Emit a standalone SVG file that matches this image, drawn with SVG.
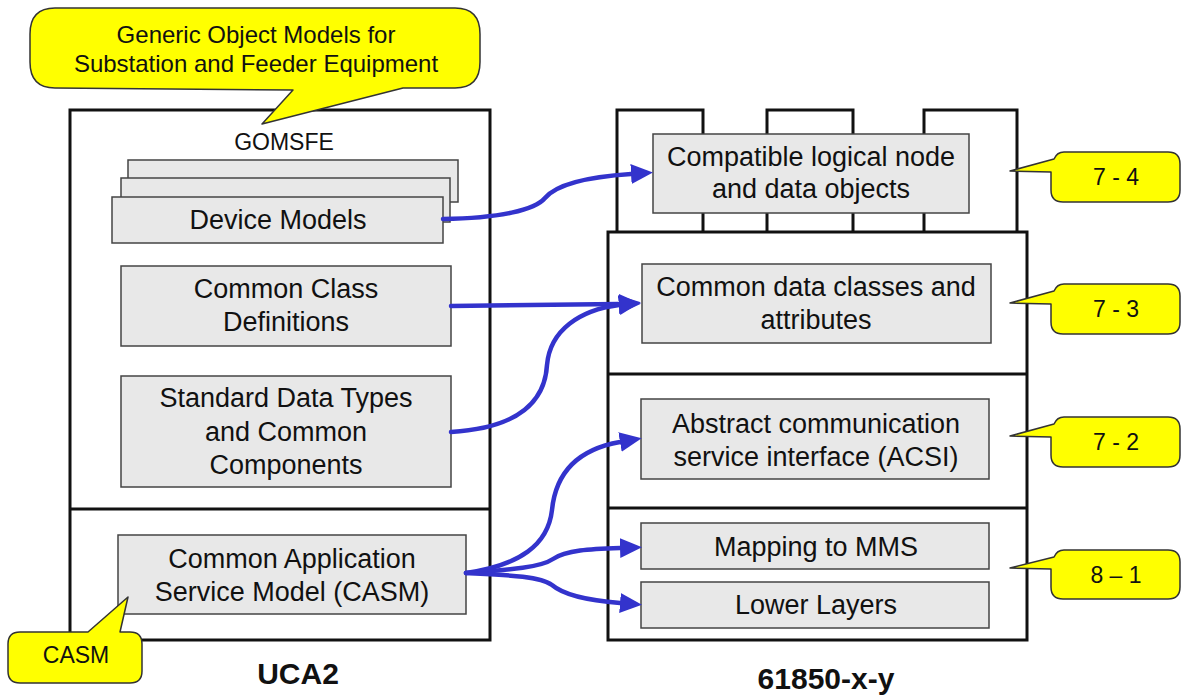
<svg xmlns="http://www.w3.org/2000/svg" width="1182" height="696" viewBox="0 0 1182 696">
<style>
text{font-family:"Liberation Sans",Arial,sans-serif;fill:#111;text-anchor:middle}
.t{font-size:27px}
.c{font-size:23px}
.g{font-size:24px}
.b{font-size:30px;font-weight:bold}
.frame{fill:none;stroke:#111;stroke-width:3}
.box{fill:#e8e8e8;stroke:#444;stroke-width:1.5}
.call{fill:#ffff00;stroke:#333;stroke-width:1.5;stroke-linejoin:round}
.conn{fill:none;stroke:#3333cc;stroke-width:4.5;stroke-linecap:round}
</style>
<defs>
<marker id="ah" markerUnits="userSpaceOnUse" markerWidth="24" markerHeight="22" refX="0" refY="10" orient="auto" viewBox="0 0 24 22">
<path d="M0,0 L22,10 L0,20 z" fill="#3333cc"/>
</marker>
</defs>
<rect width="1182" height="696" fill="#fff"/>

<g id="uca2-frame">
<rect class="frame" x="70" y="110" width="420" height="530"/>
<line class="frame" x1="70" y1="509" x2="490" y2="509"/>
<text class="c" x="284" y="150">GOMSFE</text>
<text class="b" x="298" y="684">UCA2</text>
</g>

<g id="iec-frame">
<path class="frame" d="M617,232 V110 H703 V232 M767,232 V110 H853 V232 M924,232 V110 H1017 V232"/>
<rect class="frame" x="608" y="232" width="419" height="408"/>
<line class="frame" x1="608" y1="374" x2="1027" y2="374"/>
<line class="frame" x1="608" y1="508" x2="1027" y2="508"/>
<text class="b" x="826" y="689">61850-x-y</text>
</g>

<g id="device-models">
<rect class="box" x="128" y="160" width="330" height="42"/>
<rect class="box" x="121" y="178" width="329" height="44"/>
<rect class="box" x="112" y="197" width="331" height="46"/>
<text class="t" x="278" y="229">Device Models</text>
</g>

<g id="common-class">
<rect class="box" x="121" y="266" width="330" height="80"/>
<text class="t" x="286" y="298">Common Class</text>
<text class="t" x="286" y="331">Definitions</text>
</g>

<g id="standard-data">
<rect class="box" x="121" y="376" width="330" height="111"/>
<text class="t" x="286" y="407">Standard Data Types</text>
<text class="t" x="286" y="441">and Common</text>
<text class="t" x="286" y="474">Components</text>
</g>

<g id="casm">
<rect class="box" x="118" y="535" width="348" height="79"/>
<text class="t" x="292" y="568">Common Application</text>
<text class="t" x="292" y="601">Service Model (CASM)</text>
</g>

<g id="compatible-ln">
<rect class="box" x="653" y="134" width="316" height="79"/>
<text class="t" x="811" y="166">Compatible logical node</text>
<text class="t" x="811" y="198">and data objects</text>
</g>

<g id="common-data-classes">
<rect class="box" x="642" y="264" width="349" height="79"/>
<text class="t" x="816" y="296">Common data classes and</text>
<text class="t" x="816" y="329">attributes</text>
</g>

<g id="acsi">
<rect class="box" x="641" y="399" width="348" height="80"/>
<text class="t" x="816" y="433">Abstract communication</text>
<text class="t" x="816" y="466">service interface (ACSI)</text>
</g>

<g id="mapping-mms">
<rect class="box" x="641" y="523" width="348" height="46"/>
<text class="t" x="816" y="556">Mapping to MMS</text>
</g>

<g id="lower-layers">
<rect class="box" x="641" y="582" width="348" height="46"/>
<text class="t" x="816" y="614">Lower Layers</text>
</g>

<g id="connectors">
<path class="conn" marker-end="url(#ah)" d="M443,219 C500,218 535,210 545,198 C556,185 585,177 631,174"/>
<path class="conn" marker-end="url(#ah)" d="M451,306 L619,304"/>
<path class="conn" marker-end="url(#ah)" d="M451,432 C520,428 545,400 547,365 C550,330 580,310 619,305"/>
<path class="conn" marker-end="url(#ah)" d="M466,573 C520,565 548,545 552,510 C556,470 580,449 620,442"/>
<path class="conn" marker-end="url(#ah)" d="M466,573 C505,570 540,568 553,559 C566,550 590,549 620,548"/>
<path class="conn" marker-end="url(#ah)" d="M466,573 C505,575 540,576 552,585 C566,597 595,601 620,603"/>
</g>

<g id="callout-gomsfe">
<path class="call" d="M293,90 L262,124 L403,88 L455,88 Q480,88 480,62 L480,34 Q480,8 455,8 L55,8 Q30,8 30,34 L30,62 Q30,88 55,88 Z"/>
<text class="g" x="256" y="43">Generic Object Models for</text>
<text class="g" x="256" y="72">Substation and Feeder Equipment</text>
</g>

<g id="callout-casm">
<path class="call" d="M88,632 L128,597 L120,632 L130,632 Q142,632 142,644 L142,671 Q142,683 130,683 L20,683 Q8,683 8,671 L8,644 Q8,632 20,632 Z"/>
<text class="c" x="76" y="663">CASM</text>
</g>

<g id="callout-7-4">
<path class="call" d="M1010,171 L1054,159 Q1057,152 1064,152 L1168,152 Q1180,152 1180,164 L1180,190 Q1180,202 1168,202 L1063,202 Q1051,202 1051,190 L1051,172 Z"/>
<text class="c" x="1116" y="185">7 - 4</text>
</g>

<g id="callout-7-3">
<path class="call" d="M1010,303 L1054,291 Q1057,284 1064,284 L1168,284 Q1180,284 1180,296 L1180,322 Q1180,334 1168,334 L1063,334 Q1051,334 1051,322 L1051,304 Z"/>
<text class="c" x="1116" y="317">7 - 3</text>
</g>

<g id="callout-7-2">
<path class="call" d="M1010,436 L1054,424 Q1057,417 1064,417 L1168,417 Q1180,417 1180,429 L1180,455 Q1180,467 1168,467 L1063,467 Q1051,467 1051,455 L1051,437 Z"/>
<text class="c" x="1116" y="450">7 - 2</text>
</g>

<g id="callout-8-1">
<path class="call" d="M1010,568 L1054,557 Q1057,550 1064,550 L1168,550 Q1180,550 1180,562 L1180,587 Q1180,599 1168,599 L1063,599 Q1051,599 1051,587 L1051,569 Z"/>
<text class="c" x="1116" y="583">8 – 1</text>
</g>
</svg>
